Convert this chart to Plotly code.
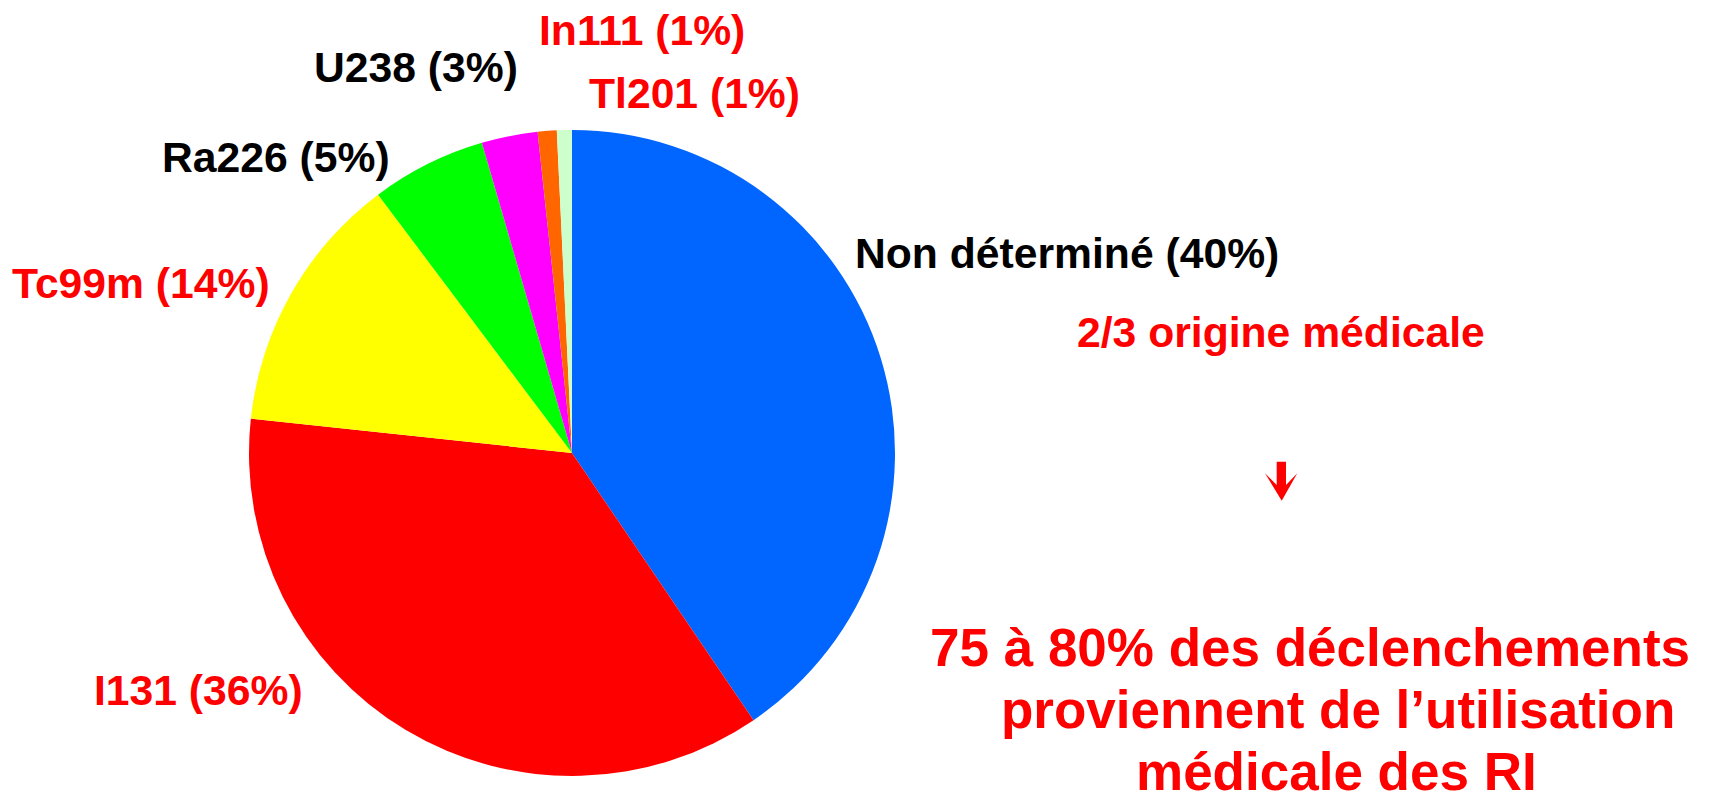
import plotly.graph_objects as go

W, H = 1717, 796

# ---- data ----
labels = ["Non déterminé", "I131", "Tc99m", "Ra226", "U238", "In111", "Tl201"]
values = [40.5, 36.2, 13.05, 5.75, 2.8, 0.95, 0.75]
label_pct = ["40%", "36%", "14%", "5%", "3%", "1%", "1%"]
colors = ["#0066FF", "#FF0000", "#FFFF00", "#00FF00", "#FF00FF", "#FF6600", "#CCFFCC"]
label_colors = ["black", "#FF0000", "#FF0000", "black", "black", "#FF0000", "#FF0000"]
# label anchor positions (pixels: x centre, y centre)
label_pos = [(1067, 252), (198, 689), (141, 282), (276, 156), (416, 66), (642, 29), (694, 92)]

side_note = "2/3 origine médicale"
conclusion_lines = ["75 à 80% des déclenchements", "proviennent de l’utilisation", "médicale des RI"]
conclusion_pos = [(1310, 646), (1338, 708), (1336, 770)]

FONT = "Arial, 'Liberation Sans', sans-serif"

def px(x):
    return x / W

def py(y):
    return 1 - y / H

cx, cy, r = 572, 453, 323

fig = go.Figure(go.Pie(
    labels=labels,
    values=values,
    marker=dict(colors=colors, line=dict(width=0)),
    sort=False,
    direction="clockwise",
    rotation=0,
    textinfo="none",
    hoverinfo="label+percent",
    domain=dict(x=[px(cx - r), px(cx + r)], y=[py(cy + r), py(cy - r)]),
    showlegend=False,
))

annotations = []
YOFF = 1  # shift from cap-centre to text-box centre
for lab, pct, col, (x, y) in zip(labels, label_pct, label_colors, label_pos):
    annotations.append(dict(
        text=f"<b>{lab} ({pct})</b>", x=px(x), y=py(y + YOFF), xref="paper", yref="paper",
        xanchor="center", yanchor="middle", showarrow=False,
        font=dict(family=FONT, size=42.67, color=col),
    ))

annotations.append(dict(
    text=f"<b>{side_note}</b>", x=px(1281), y=py(331 + YOFF), xref="paper", yref="paper",
    xanchor="center", yanchor="middle", showarrow=False,
    font=dict(family=FONT, size=42.67, color="#FF0000"),
))

for line, (x, y) in zip(conclusion_lines, conclusion_pos):
    annotations.append(dict(
        text=f"<b>{line}</b>", x=px(x), y=py(y + 1), xref="paper", yref="paper",
        xanchor="center", yanchor="middle", showarrow=False,
        font=dict(family=FONT, size=53, color="#FF0000"),
    ))

# down arrow decoration
arrow_pts = [(1276.7, 461.7), (1286, 461.7), (1286, 485), (1297.3, 473.3),
             (1281.7, 500.7), (1265, 473.3), (1276.7, 485)]
path = "M " + " L ".join(f"{px(x):.5f},{py(y):.5f}" for x, y in arrow_pts) + " Z"

fig.update_layout(
    width=W, height=H,
    margin=dict(l=0, r=0, t=0, b=0),
    paper_bgcolor="white", plot_bgcolor="white",
    annotations=annotations,
    shapes=[dict(type="path", xref="paper", yref="paper", path=path,
                 fillcolor="#FF0000", line=dict(width=0))],
)

fig.write_html(
    "out.html",
    config={"displayModeBar": False},
    post_script="document.body.style.margin='0';document.body.style.overflow='hidden';",
)
